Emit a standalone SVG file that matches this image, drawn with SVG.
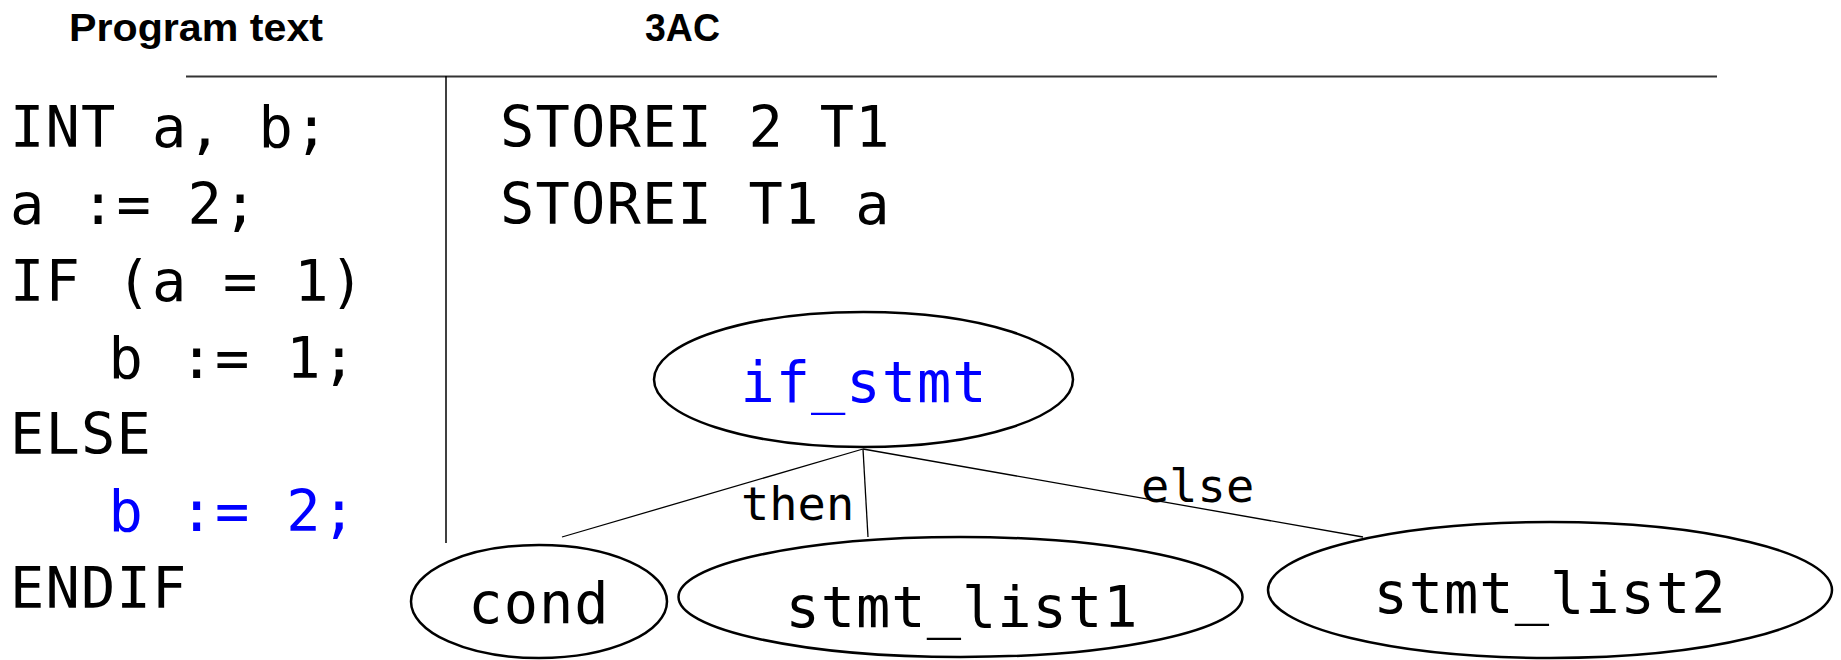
<svg xmlns="http://www.w3.org/2000/svg" width="1841" height="660" viewBox="0 0 1841 660" xml:space="preserve">
<style>
.hdr{font-family:"Liberation Sans",Arial,sans-serif;font-weight:bold;font-size:39px;fill:#000}
.code{font-family:"DejaVu Sans Mono",monospace;font-size:57px;letter-spacing:1.2px;fill:#000;white-space:pre}
.blue{fill:#0000ff}
.lbl{font-family:"DejaVu Sans Mono",monospace;font-size:47px;fill:#000}
.node ellipse{fill:#fff;stroke:#000;stroke-width:2.5}
.node text{font-family:"DejaVu Sans Mono",monospace;font-size:57px;letter-spacing:1px;text-anchor:middle;fill:#000}
.edge{stroke:#000;stroke-width:1.3;fill:none}
</style>
<rect width="1841" height="660" fill="#fff"/>
<g id="headers">
<text class="hdr" x="69" y="41" textLength="254" lengthAdjust="spacingAndGlyphs">Program text</text>
<text class="hdr" x="645" y="41" textLength="75" lengthAdjust="spacingAndGlyphs">3AC</text>
</g>
<g id="rules">
<line x1="186" y1="76.5" x2="1717" y2="76.5" stroke="#333" stroke-width="2"/>
<line x1="446" y1="76" x2="446" y2="543" stroke="#000" stroke-width="1.5"/>
</g>
<g id="program">
<text class="code" x="10" y="147">INT a, b;</text>
<text class="code" x="10" y="224">a := 2;</text>
<text class="code" x="10" y="301">IF (a = 1)</text>
<text class="code" x="2" y="378">   b := 1;</text>
<text class="code" x="10" y="454">ELSE</text>
<text class="code" x="2" y="531" style="fill:#0000ff">   b := 2;</text>
<text class="code" x="10" y="608">ENDIF</text>
</g>
<g id="tac">
<text class="code" x="500" y="147">STOREI 2 T1</text>
<text class="code" x="500" y="224">STOREI T1 a</text>
</g>
<g id="connectors">
<line class="edge" x1="863" y1="449" x2="562" y2="537"/>
<line class="edge" x1="863" y1="449" x2="868" y2="537"/>
<line class="edge" x1="863" y1="449" x2="1363" y2="537"/>
<text class="lbl" x="741" y="520">then</text>
<text class="lbl" x="1141" y="502">else</text>
</g>
<g id="if_stmt" class="node">
<ellipse cx="863.5" cy="379.5" rx="209.5" ry="67.5"/>
<text x="864" y="402" style="fill:#0000ff">if_stmt</text>
</g>
<g id="cond" class="node">
<ellipse cx="539" cy="601.5" rx="128" ry="56.5"/>
<text x="539" y="623">cond</text>
</g>
<g id="stmt_list1" class="node">
<ellipse cx="960.5" cy="597" rx="282" ry="60"/>
<text x="962" y="627">stmt_list1</text>
</g>
<g id="stmt_list2" class="node">
<ellipse cx="1550" cy="590" rx="282" ry="68"/>
<text x="1550" y="613">stmt_list2</text>
</g>
</svg>
